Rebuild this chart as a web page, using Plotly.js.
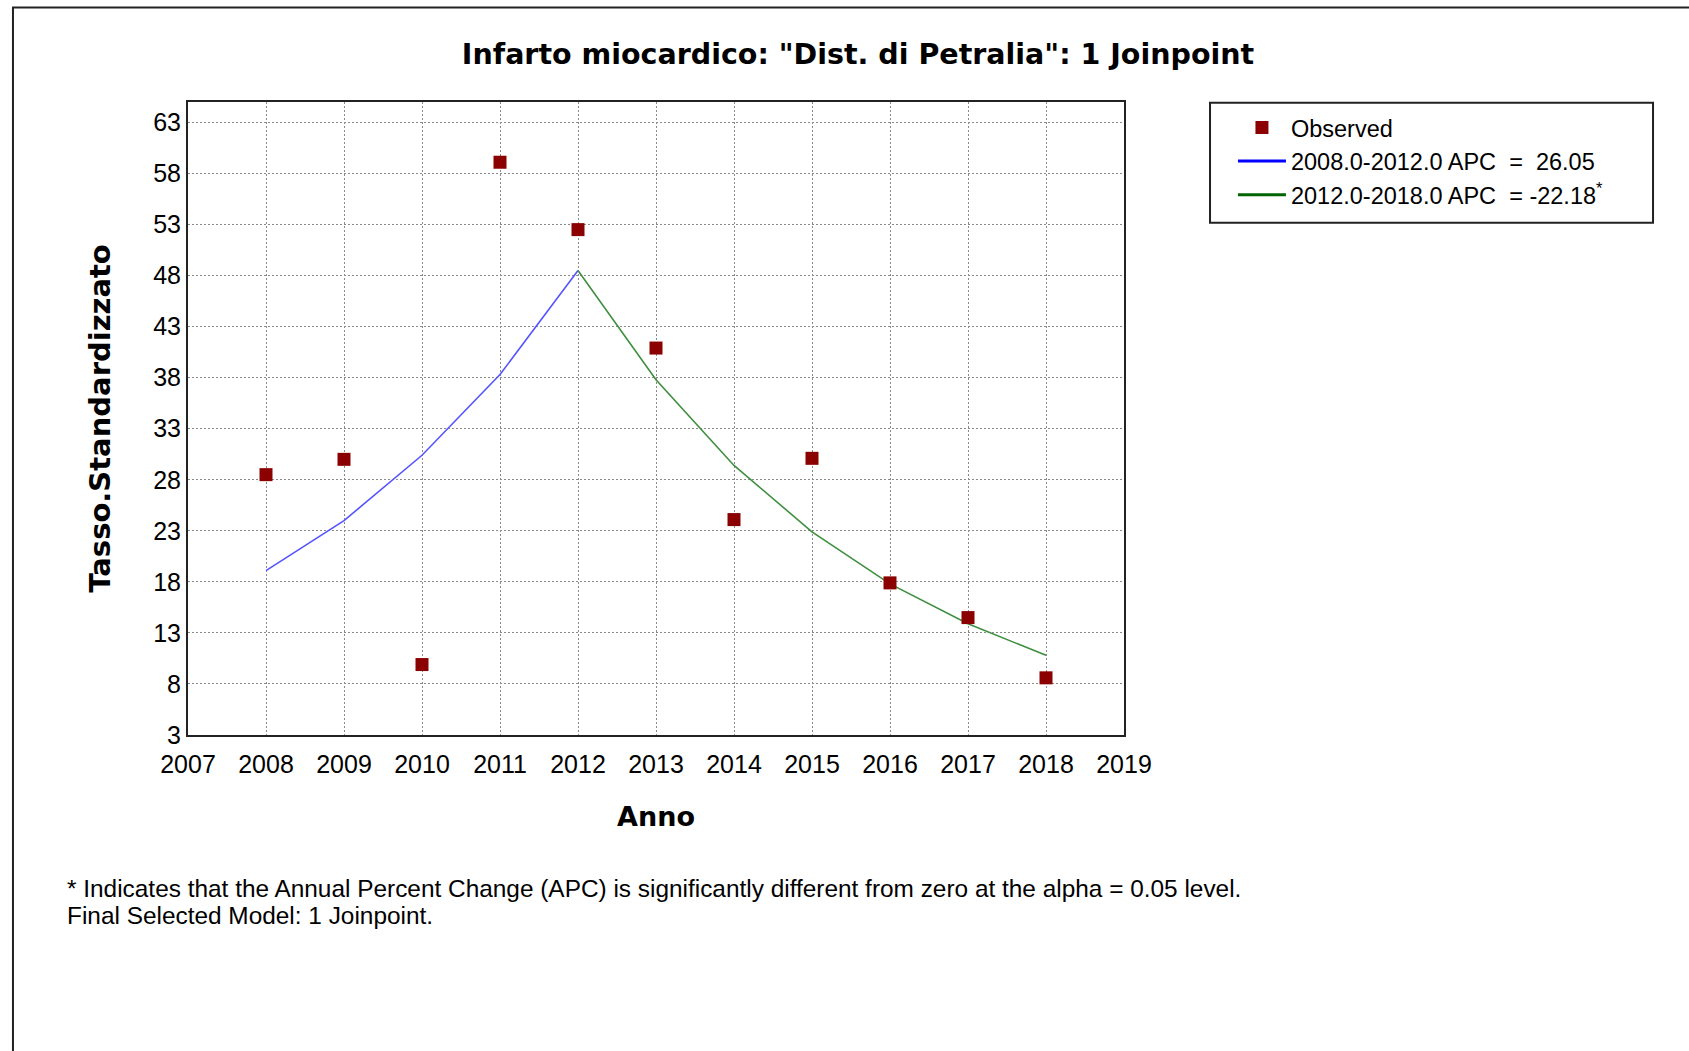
<!DOCTYPE html>
<html>
<head>
<meta charset="utf-8">
<script src="https://cdn.plot.ly/plotly-3.0.1.min.js"></script>
<style>
  html, body { margin: 0; padding: 0; background: #fff; }
  #plot { width: 1689px; height: 1051px; }
</style>
</head>
<body>
<div id="plot"></div>
<script>
// observed rates and joinpoint fit
const years = [2008, 2009, 2010, 2011, 2012, 2013, 2014, 2015, 2016, 2017, 2018];
const observed = [28.5, 30.0, 9.9, 59.1, 52.5, 40.9, 24.1, 30.1, 17.9, 14.5, 8.6];

const seg1Years = [2008, 2009, 2010, 2011, 2012];
const seg1Fit = [19.1, 24.0, 30.4, 38.3, 48.5];
const seg2Years = [2012, 2013, 2014, 2015, 2016, 2017, 2018];
const seg2Fit = [48.5, 37.8, 29.4, 22.9, 17.8, 13.9, 10.8];

const yTicks = [3, 8, 13, 18, 23, 28, 33, 38, 43, 48, 53, 58, 63];
const xTicks = [2007, 2008, 2009, 2010, 2011, 2012, 2013, 2014, 2015, 2016, 2017, 2018, 2019];

const legendNames = [
  "Observed",
  "2008.0-2012.0 APC \u00a0=\u00a0 26.05",
  "2012.0-2018.0 APC \u00a0= -22.18<sup>*</sup>",
];

const sans = "Liberation Sans, Arial, sans-serif";
const bold = "DejaVu Sans, Verdana, sans-serif";

const traces = [
  {
    x: seg1Years, y: seg1Fit, type: "scatter", mode: "lines",
    line: { color: "#5555ff", width: 1.6 }, showlegend: false, hoverinfo: "skip",
  },
  {
    x: seg2Years, y: seg2Fit, type: "scatter", mode: "lines",
    line: { color: "#3f8f3f", width: 1.6 }, showlegend: false, hoverinfo: "skip",
  },
  {
    x: years, y: observed, type: "scatter", mode: "markers",
    marker: { symbol: "square", size: 13, color: "#8b0000" },
    name: legendNames[0], legendrank: 1,
  },
  // legend-only entries for the two segments
  {
    x: [null], y: [null], type: "scatter", mode: "lines",
    line: { color: "#0000ff", width: 3 }, name: legendNames[1], legendrank: 2,
  },
  {
    x: [null], y: [null], type: "scatter", mode: "lines",
    line: { color: "#006400", width: 3 }, name: legendNames[2], legendrank: 3,
  },
];

const grid = { gridcolor: "#8a8a8a", griddash: "2px,2px", gridwidth: 1 };

const layout = {
  width: 1689,
  height: 1051,
  margin: { l: 188, r: 565, t: 102, b: 316 },
  paper_bgcolor: "#fff",
  plot_bgcolor: "#fff",
  title: {
    text: "Infarto miocardico: \"Dist. di Petralia\": 1 Joinpoint",
    font: { family: bold, size: 28.5, color: "#000", weight: "bold" },
    xref: "container", x: 0.508, xanchor: "center",
    yref: "container", y: 0.9486, yanchor: "middle",
  },
  xaxis: Object.assign({
    range: [2007, 2019],
    tickvals: xTicks,
    ticktext: xTicks.map(String),
    ticks: "",
    ticklabelstandoff: 6,
    tickfont: { family: sans, size: 25, color: "#000" },
    showline: true, mirror: true, linecolor: "#222", linewidth: 2,
    zeroline: false,
    title: {
      text: "Anno",
      font: { family: bold, size: 27, color: "#000", weight: "bold" },
      standoff: 30,
    },
  }, grid),
  yaxis: Object.assign({
    range: [3, 65],
    tickvals: yTicks,
    ticks: "",
    ticklabelstandoff: 0,
    tickfont: { family: sans, size: 25, color: "#000" },
    showline: true, mirror: true, linecolor: "#222", linewidth: 2,
    zeroline: false,
    title: {
      text: "Tasso.Standardizzato",
      font: { family: bold, size: 29, color: "#000", weight: "bold" },
      standoff: 34,
    },
  }, grid),
  legend: {
    x: 1.1164, xanchor: "left",
    y: 0.994, yanchor: "top",
    bgcolor: "rgba(0,0,0,0)",
    borderwidth: 0,
    itemwidth: 48,
    font: { family: sans, size: 23.5, color: "#000" },
    tracegroupgap: 0,
  },
  shapes: [
    // outer frame of the picture
    {
      type: "rect", xref: "paper", yref: "paper",
      x0: -0.187, x1: 2, y0: -1, y1: 1.1493,
      line: { color: "#222", width: 2 },
    },
    // legend box
    {
      type: "rect", xref: "paper", yref: "paper",
      x0: 1.0919, x1: 1.5652, y0: 0.8093, y1: 0.9989,
      line: { color: "#222", width: 2 },
    },
  ],
  annotations: [
    {
      xref: "paper", yref: "paper", x: -0.1316, y: -0.2425,
      xanchor: "left", yanchor: "middle", showarrow: false,
      text: "* Indicates that the Annual Percent Change (APC) is significantly different from zero at the alpha = 0.05 level.",
      font: { family: sans, size: 24.4, color: "#000" },
    },
    {
      xref: "paper", yref: "paper", x: -0.1316, y: -0.2844,
      xanchor: "left", yanchor: "middle", showarrow: false,
      text: "Final Selected Model: 1 Joinpoint.",
      font: { family: sans, size: 24.4, color: "#000" },
    },
  ],
  showlegend: true,
};

Plotly.newPlot("plot", traces, layout, { displayModeBar: false, staticPlot: true });
</script>
</body>
</html>
